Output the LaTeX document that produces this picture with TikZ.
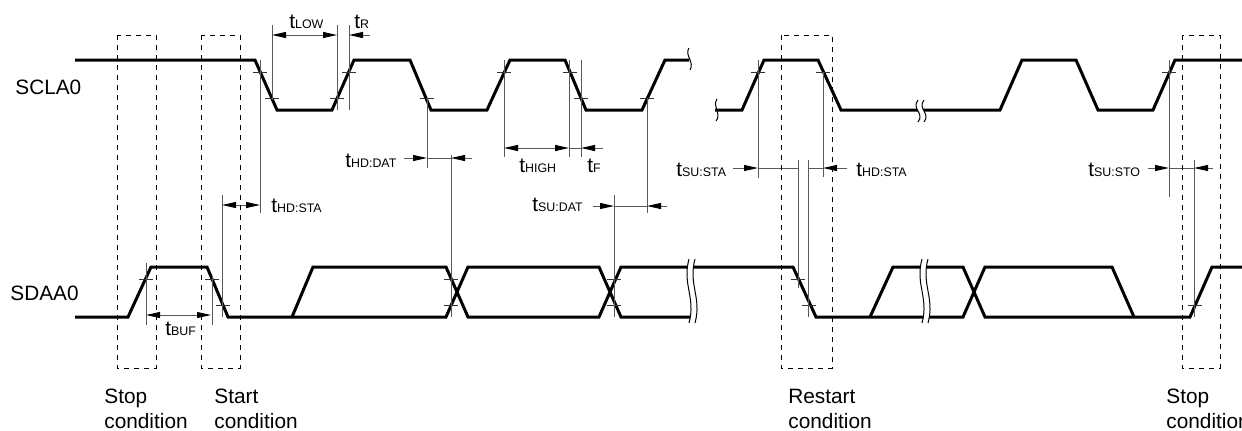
\documentclass[tikz,border=0pt]{standalone}
\usepackage{fontspec}
\setmainfont{Liberation Sans}
\usetikzlibrary{arrows.meta}

\newcommand{\tsub}[1]{t{\fontsize{6.2}{7}\selectfont #1}}
\newcommand{\wavebreak}[3]{%
  \begin{scope}[shift={(#1,#2)}]
    \fill[white] (-3,0) .. controls (-10,#3*0.4) and (4,#3*0.6) .. (-3,#3)
      -- (3,#3) .. controls (10,#3*0.6) and (-4,#3*0.4) .. (3,0) -- cycle;
    \draw[breakline] (-3,0) .. controls (-10,#3*0.4) and (4,#3*0.6) .. (-3,#3);
    \draw[breakline] (3,0) .. controls (-4,#3*0.4) and (10,#3*0.6) .. (3,#3);
  \end{scope}}

\tikzset{
  wave/.style={line width=1.5pt},
  dimline/.style={line width=0.5pt, black!65},
  tickmark/.style={line width=0.5pt, black!80},
  breakline/.style={line width=0.5pt, black},
  condbox/.style={line width=0.5pt, dash pattern=on 2.5pt off 2.5pt},
  lbl/.style={anchor=base west, inner sep=0pt, font=\fontsize{10.4}{12.5}\selectfont},
  >={Triangle[length=7pt,width=3pt,color=black]}
}

\begin{document}
\begin{tikzpicture}[x=0.5pt,y=-0.5pt]
  \useasboundingbox (0,0) rectangle (1242,430);

  % signal names
  \node[lbl] (scl) at (15,94) {SCLA0};
  \node[lbl] (sda) at (10,300) {SDAA0};

  % SCLA0
  \draw[wave] (75,60) -- (255,60) -- (277,110) -- (332,110) -- (354,60) -- (410,60)
    -- (431,110) -- (487,110) -- (510,60) -- (565,60) -- (586,110) -- (642,110)
    -- (665,60) -- (689,60);
  \draw[wave] (715,110) -- (742,110) -- (764,60) -- (818,60) -- (841,110) -- (1000,110)
    -- (1022,60) -- (1076,60) -- (1098,110) -- (1153,110) -- (1175,60) -- (1242,60);
  \draw[breakline] (689,48) .. controls (684,55) and (695,62) .. (690,70);
  \draw[breakline] (717,99) .. controls (712,106) and (722,114) .. (716,121);
  \wavebreak{921}{100}{22}

  % SDAA0
  \draw[wave] (75,317) -- (128,317) -- (151,267) -- (207,267) -- (228,317) -- (446,317)
    -- (468,267) -- (599,267) -- (621,317) -- (690,317);
  \draw[wave] (292,317) -- (313,267) -- (446,267) -- (468,317) -- (599,317) -- (621,267)
    -- (793,267) -- (816,317) -- (963,317) -- (985,267) -- (1112,267) -- (1134,317);
  \draw[wave] (870,317) -- (893,267) -- (963,267) -- (985,317) -- (1190,317)
    -- (1212,267) -- (1242,267);
  \wavebreak{692}{259}{64}
  \wavebreak{925}{259}{64}

  % threshold marks
  \draw[tickmark] (253,72) -- (267,72) (265,98) -- (279,98) (330,98) -- (344,98)
    (342,72) -- (356,72) (420,98) -- (434,98) (497,72) -- (511,72) (563,72) -- (577,72)
    (574,98) -- (588,98) (640,98) -- (654,98) (751,72) -- (765,72) (816,72) -- (830,72)
    (1162,72) -- (1176,72);
  \draw[tickmark] (139,279) -- (153,279) (205,279) -- (219,279) (216,305) -- (230,305)
    (444,279) -- (458,279) (444,305) -- (458,305) (607,279) -- (621,279)
    (607,305) -- (621,305) (791,279) -- (805,279) (802,305) -- (816,305)
    (1188,305) -- (1202,305);

  % extension lines
  \draw[dimline] (260,60) -- (260,213) (272,25) -- (272,100) (337,25) -- (337,110)
    (349,25) -- (349,110) (427,98) -- (427,168) (504,60) -- (504,157)
    (569,60) -- (569,157) (581,60) -- (581,157) (647,98) -- (647,213)
    (758,60) -- (758,178) (823,72) -- (823,177) (1169,60) -- (1169,197);
  \draw[dimline] (146,263) -- (146,325) (212,277) -- (212,325) (222,195) -- (222,317)
    (451,155) -- (451,317) (614,195) -- (614,317) (798,160) -- (798,288)
    (808,160) -- (808,317) (1194,160) -- (1194,317);

  % timing arrows
  \draw[dimline,<->] (272,35) -- (337,35);
  \draw[dimline,->] (370,35) -- (349,35);
  \draw[dimline,<->] (222,205) -- (260,205);
  \draw[dimline,->] (404,158) -- (427,158);
  \draw[dimline] (427,158) -- (451,158);
  \draw[dimline,->] (472,158) -- (451,158);
  \draw[dimline,<->] (504,148) -- (569,148);
  \draw[dimline] (569,148) -- (581,148);
  \draw[dimline,->] (603,148) -- (581,148);
  \draw[dimline,->] (593,206) -- (614,206);
  \draw[dimline] (614,206) -- (647,206);
  \draw[dimline,->] (667,206) -- (647,206);
  \draw[dimline,->] (733,168) -- (758,168);
  \draw[dimline] (758,168) -- (798,168);
  \draw[dimline] (808,168) -- (823,168);
  \draw[dimline,->] (847,168) -- (823,168);
  \draw[dimline,->] (1148,168) -- (1169,168);
  \draw[dimline] (1169,168) -- (1194,168);
  \draw[dimline,->] (1213,168) -- (1194,168);
  \draw[dimline,<->] (146,315) -- (211,315);

  % timing labels
  \node[lbl] (tlow) at (289,28) {\tsub{LOW}};
  \node[lbl] (tr) at (354,28) {\tsub{R}};
  \node[lbl] (thddat) at (345,167) {\tsub{HD:DAT}};
  \node[lbl] (thdsta) at (271,212) {\tsub{HD:STA}};
  \node[lbl] (thigh) at (519,172) {\tsub{HIGH}};
  \node[lbl] (tf) at (587,172) {\tsub{F}};
  \node[lbl] (tsudat) at (532,211) {\tsub{SU:DAT}};
  \node[lbl] (tsusta) at (676,176) {\tsub{SU:STA}};
  \node[lbl] (thdstb) at (856,176) {\tsub{HD:STA}};
  \node[lbl] (tsusto) at (1088,176) {\tsub{SU:STO}};
  \node[lbl] (tbuf) at (165,335) {\tsub{BUF}};

  % condition windows
  \draw[condbox] (117,35) rectangle (156,368);
  \draw[condbox] (201,35) rectangle (240,368);
  \draw[condbox] (781,35) rectangle (832,368);
  \draw[condbox] (1182,35) rectangle (1220,368);
  \node[lbl, align=left] (cstop) at (104,428) {Stop\\condition};
  \node[lbl, align=left] (cstart) at (214,428) {Start\\condition};
  \node[lbl, align=left] (crestart) at (788,428) {Restart\\condition};
  \node[lbl, align=left] (cstopb) at (1166,428) {Stop\\condition};
\end{tikzpicture}
\end{document}
